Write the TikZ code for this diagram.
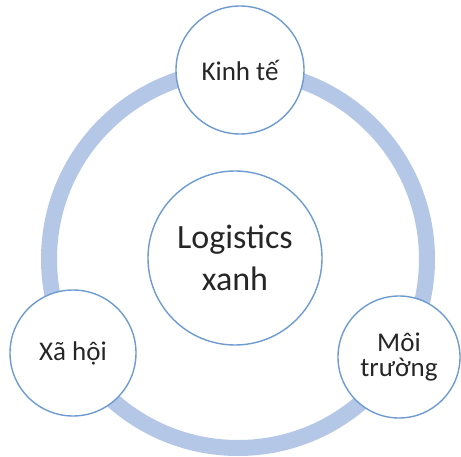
\documentclass[tikz,border=0pt]{standalone}
\usepackage{fontspec}
\setmainfont{Carlito}
\definecolor{ringblue}{RGB}{180,199,231}
\definecolor{edgeblue}{RGB}{110,155,210}
\begin{document}
\begin{tikzpicture}[x=1pt,y=1pt,
  bubble/.style={circle,draw=edgeblue,line width=1.4pt,fill=white,inner sep=0pt,align=center,font=\fontsize{27}{25}\selectfont,text=black!85}]
\fill[white] (0,0) rectangle (461,456);
\useasboundingbox (0,0) rectangle (461,456);
\coordinate (o) at (238,197);
\draw[ringblue,line width=16pt] (o) circle[radius=189];
\node[bubble,minimum size=174pt,font=\fontsize{34}{42}\selectfont] (c) at (235,198) {Logistics\\xanh};
\node[bubble,minimum size=128pt] (k) at (240,386) {Kinh tế};
\node[bubble,minimum size=126pt] (x) at (73,103) {Xã hội};
\node[bubble,minimum size=122pt] (m) at (399,99) {Môi\\trường};
\end{tikzpicture}
\end{document}
